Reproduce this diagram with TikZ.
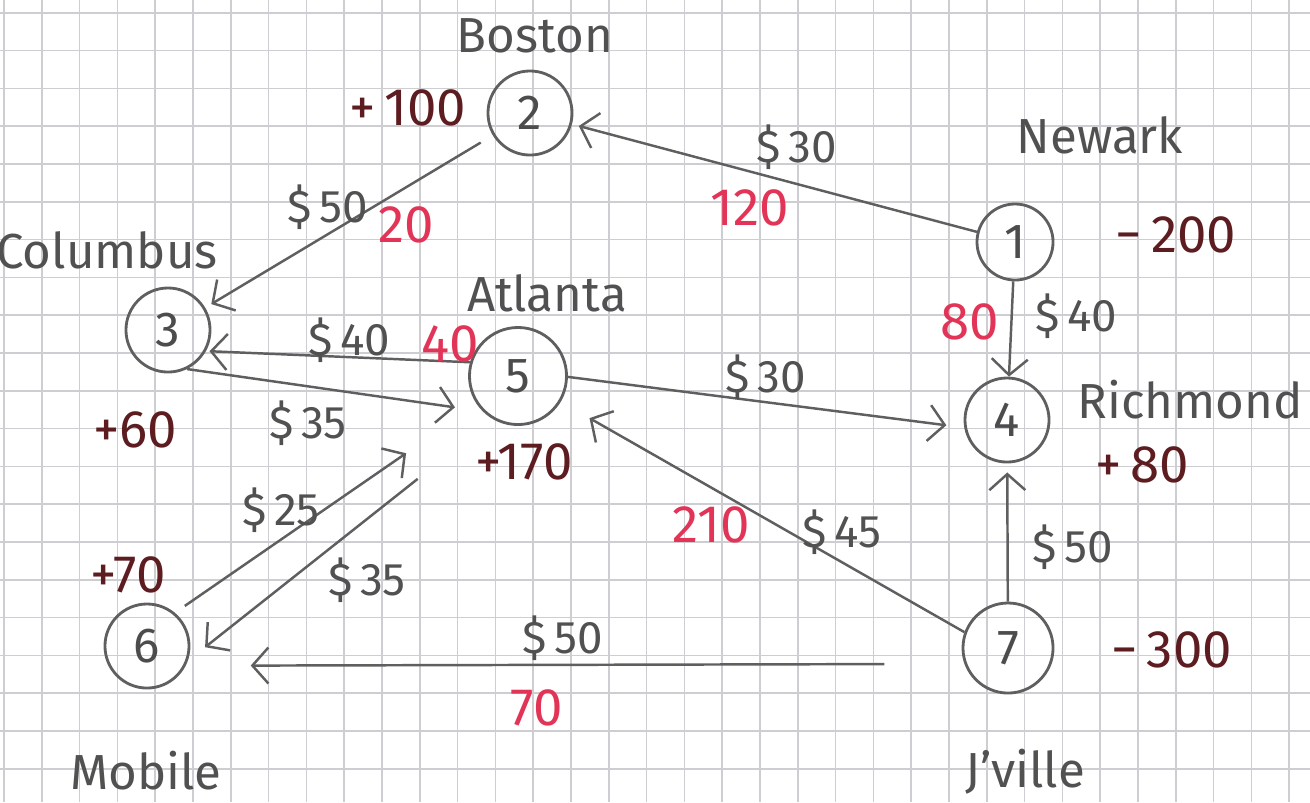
\documentclass[tikz,border=0pt]{standalone}
\usepackage{fontspec}
\setmainfont{Fira Sans}
\usetikzlibrary{arrows.meta}

% Pencil and ink colours
\definecolor{pencil}{RGB}{95,95,95}
\definecolor{flowred}{RGB}{226,52,86}
\definecolor{supplybrown}{RGB}{92,28,32}
\definecolor{gridgray}{RGB}{205,205,210}

\begin{document}
\begin{tikzpicture}[
    x=0.01cm, y=-0.01cm,
    >={Straight Barb[length=1.6mm, width=3.6mm]},
    font=\fontsize{13}{15}\selectfont,
    % --- Style Definitions ---
    gridline/.style={draw=gridgray, line width=0.45pt},
    city/.style={
        circle, draw=pencil, line width=0.8pt,
        minimum size=0.84cm, inner sep=0pt,
        text=pencil!80!black, font=\fontsize{14}{16}\selectfont
    },
    cityname/.style={text=pencil!85!black, font=\fontsize{14}{16}\selectfont, inner sep=1pt},
    balance/.style={text=supplybrown, font=\fontsize{15}{17}\selectfont, inner sep=1pt},
    cost/.style={text=pencil!85!black, inner sep=1pt},
    flow/.style={text=flowred, font=\fontsize{15}{17}\selectfont, inner sep=1pt},
    edge/.style={->, draw=pencil, line width=0.7pt, shorten >=2pt}
]

\useasboundingbox (0,0) rectangle (1310,802);

% ================= Squared paper =================
\foreach \gx in {0,...,34}
    \draw[gridline] ({4+37.8*\gx},0) -- ({4+37.8*\gx},802);
\foreach \gy in {0,...,20}
    \draw[gridline] (0,{12.7+37.8*\gy}) -- (1310,{12.7+37.8*\gy});

% ================= Cities =================
\node[city] (n2) at (530,113) {2};
\node[city, minimum size=0.76cm] (n1) at (1015,242) {1};
\node[city] (n3) at (168,330) {3};
\node[city, minimum size=0.97cm] (n5) at (518,376) {5};
\node[city] (n4) at (1007,420) {4};
\node[city] (n6) at (147,646) {6};
\node[city, minimum size=0.9cm] (n7) at (1008,648) {7};

\node[cityname] (boston) at (535,36) {Boston};
\node[cityname] (newark) at (1100,135) {Newark};
\node[cityname] (columbus) at (107,250) {Columbus};
\node[cityname] (atlanta) at (547,293) {Atlanta};
\node[cityname] (richmond) at (1190,400) {Richmond};
\node[cityname] (mobile) at (146,771) {Mobile};
\node[cityname] (jville) at (1025,772) {J'ville};

% ================= Supply / demand =================
\node[balance] (bal2) at (408,108) {+\,100};
\node[balance] (bal1) at (1176,235) {−\,200};
\node[balance] (bal3) at (135,430) {+60};
\node[balance] (bal5) at (524,462) {+170};
\node[balance] (bal4) at (1142,465) {+\,80};
\node[balance] (bal6) at (128,575) {+70};
\node[balance] (bal7) at (1172,650) {−\,300};

% ================= Routes =================
\draw[edge] (n1) -- (n2);
\draw[edge, shorten <=4pt] (n2) -- (n3);
\draw[edge, shorten >=1pt] (n5.164) -- (n3.-29);
\draw[edge, shorten >=0.28cm] (n3.-64) -- (n5.225);
\draw[edge, shorten >=0.18cm] (n5.-1) -- (n4.190);
\draw[edge, shorten >=0pt] (n1) -- (n4);
\draw[edge, shorten >=0.09cm] (n7) -- (n4);
\draw[edge, shorten >=0.33cm] (n7.160) -- (n5.-31);
\draw[edge, shorten <=0.12cm, shorten >=0.86cm] (n6.50) -- (n5);
\draw[edge, shorten <=0.96cm, shorten >=0.22cm] (n5.240) -- (n6.-20);
\draw[edge, shorten <=0.8cm, shorten >=0.65cm] (n7.200) -- (n6.-27);

% Unit costs (pencil)
\node[cost] (c12) at (797,147) {\$\,30};
\node[cost] (c23) at (328,207) {\$\,50};
\node[cost] (c53) at (349,340) {\$\,40};
\node[cost] (c35) at (308,423) {\$\,35};
\node[cost] (c54) at (766,377) {\$\,30};
\node[cost] (c14) at (1076,316) {\$\,40};
\node[cost] (c65) at (281,510) {\$\,25};
\node[cost] (c56) at (367,580) {\$\,35};
\node[cost] (c75) at (842,532) {\$\,45};
\node[cost] (c74) at (1073,547) {\$\,50};
\node[cost] (c76) at (563,638) {\$\,50};

% Flows (red ink)
\node[flow] (f12) at (750,208) {120};
\node[flow] (f23) at (406,225) {20};
\node[flow] (f53) at (450,344) {40};
\node[flow] (f14) at (970,322) {80};
\node[flow] (f75) at (711,525) {210};
\node[flow] (f76) at (537,708) {70};

\end{tikzpicture}
\end{document}
